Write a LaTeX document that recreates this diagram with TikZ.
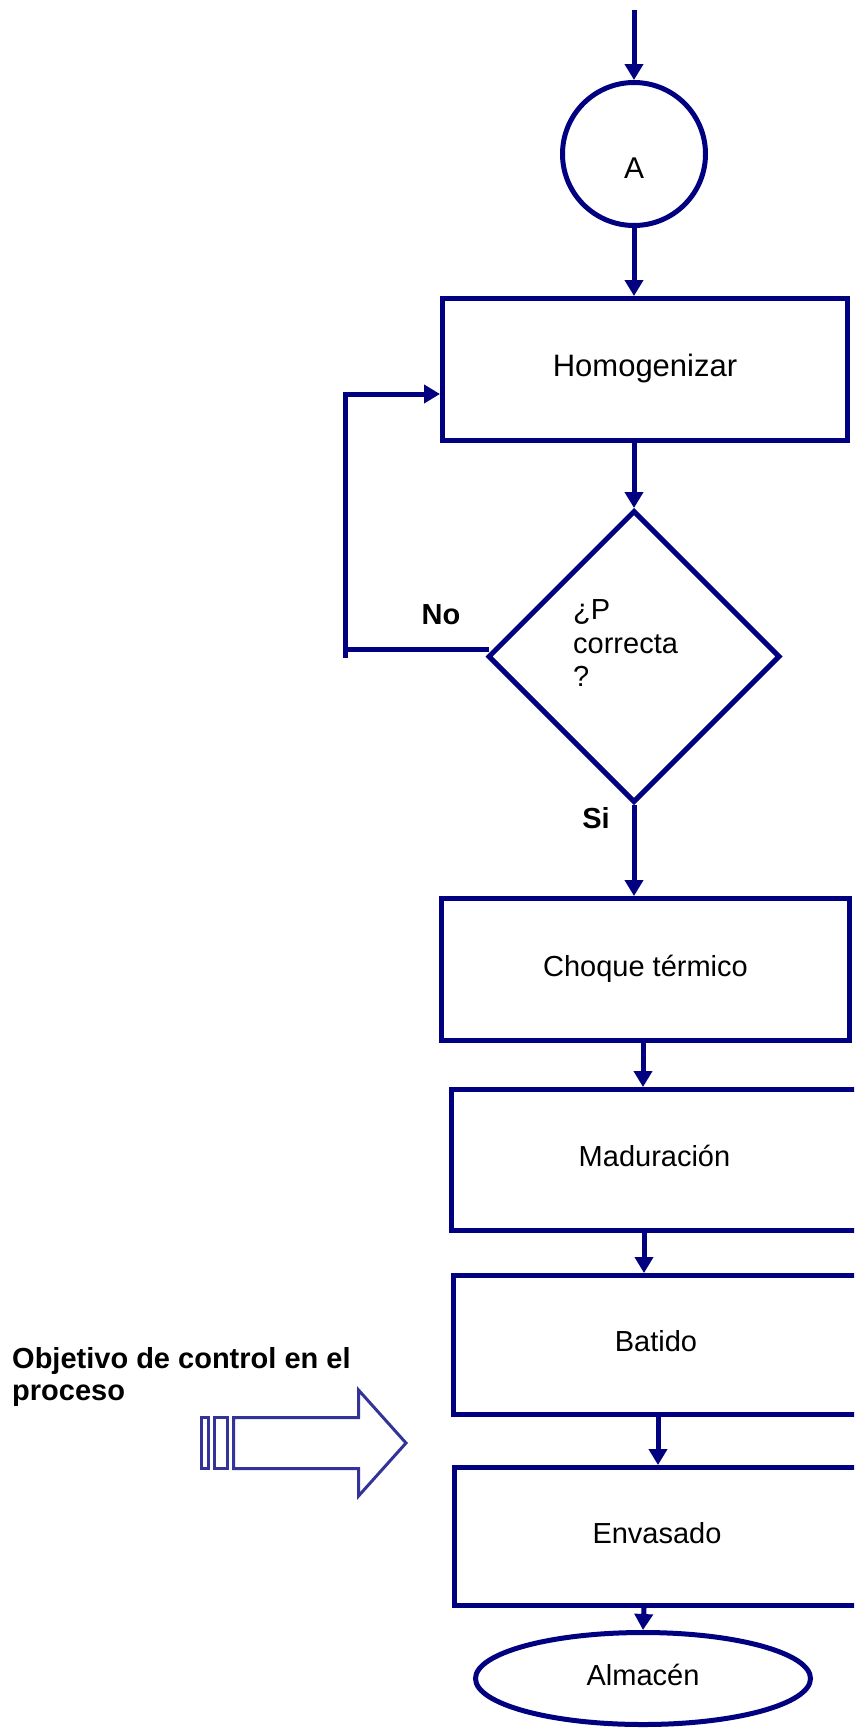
\documentclass[tikz,border=0pt]{standalone}
\usepackage{fontspec}
\setmainfont{Liberation Sans}
\usetikzlibrary{shapes.geometric,arrows.meta,calc}
\definecolor{navy}{RGB}{0,0,128}
\definecolor{ctrlblue}{RGB}{51,51,153}
\begin{document}
\begin{tikzpicture}[x=1pt,y=-1pt,
  flow/.style={draw=navy,line width=5pt},
  stepbox/.style={flow,rectangle,inner sep=0pt,align=center,text height=21pt,text depth=8pt,
    font=\fontsize{29}{32}\selectfont},
  link/.style={draw=navy,line width=5pt,-{Triangle[length=16pt,width=18pt]}},
  plain/.style={inner sep=0pt,font=\fontsize{29}{32}\selectfont},
  tag/.style={inner sep=0pt,font=\bfseries\fontsize{29}{32}\selectfont},
  ctrl/.style={draw=ctrlblue,line width=3pt,line join=miter}]
\clip (0,0) rectangle (854,1729);

% process steps
\node[flow,circle,minimum size=143pt,inner sep=0pt] (A) at (634,154) {};
\node[plain,font=\fontsize{30}{34}\selectfont,text height=21.5pt,text depth=0pt] (Atxt) at (634,168) {A};
\node[stepbox,minimum width=405pt,minimum height=142pt,text height=22pt,
  font=\fontsize{31}{36}\selectfont] (H) at (645,369.5) {Homogenizar};
\node[flow,diamond,minimum width=292pt,minimum height=292pt,inner sep=0pt] (D) at (634,656.5) {};
\node[plain,align=left,anchor=north west,font=\fontsize{29}{33.5}\selectfont] (Dq) at (573,599.5) {¿P\\correcta\\?};
\node[stepbox,minimum width=408pt,minimum height=142pt] (C) at (645.5,969.5) {Choque térmico};
\node[stepbox,minimum width=406pt,minimum height=141pt] (M) at (654.5,1160) {Maduración};
\node[stepbox,minimum width=405pt,minimum height=139pt] (B) at (656,1345) {Batido};
\node[stepbox,minimum width=405pt,minimum height=138pt] (E) at (657,1536.5) {Envasado};
\node[stepbox,ellipse,minimum width=335pt,minimum height=92pt] (W) at (643,1678.5) {Almacén};

% decision labels
\node[tag] (no) at (441,615) {No};
\node[tag] (si) at (596,818) {Si};

% main flow
\coordinate (start) at (634,10);
\coordinate (x1) at (643,0);
\coordinate (x2) at (644,0);
\coordinate (x3) at (658,0);
\draw[link] (start) -- (A.north);
\draw[link] (A.south) -- (A.south |- H.north);
\draw[link] (D.north |- H.south) -- (D.north);
\draw[link] (D.south) -- (D.south |- C.north);
\draw[link] (x1 |- C.south) -- (x1 |- M.north);
\draw[link] (x2 |- M.south) -- (x2 |- B.north);
\draw[link] (x3 |- B.south) -- (x3 |- E.north);
\draw[link] (x2 |- E.south) -- (W.north);

% return loop when the check fails
\coordinate (nE) at (489,649);
\coordinate (fbB) at (345,658);
\coordinate (fbT) at (345,394);
\draw[flow] (nE) -- (fbB |- nE);
\draw[link] (fbB) -- (fbT) -- (fbT -| H.west);

% control objective callout
\node[tag,align=left,anchor=north west] (obj) at (12,1347) {Objetivo de control en el\\proceso};
\draw[ctrl] (201.5,1417.5) rectangle (208.5,1468.5);
\draw[ctrl] (214.5,1417.5) rectangle (227.5,1468.5);
\draw[ctrl] (233.5,1417.5) -- (358.5,1417.5) -- (358.5,1390) -- (406,1443)
  -- (358.5,1496) -- (358.5,1468.5) -- (233.5,1468.5) -- cycle;
\end{tikzpicture}
\end{document}
